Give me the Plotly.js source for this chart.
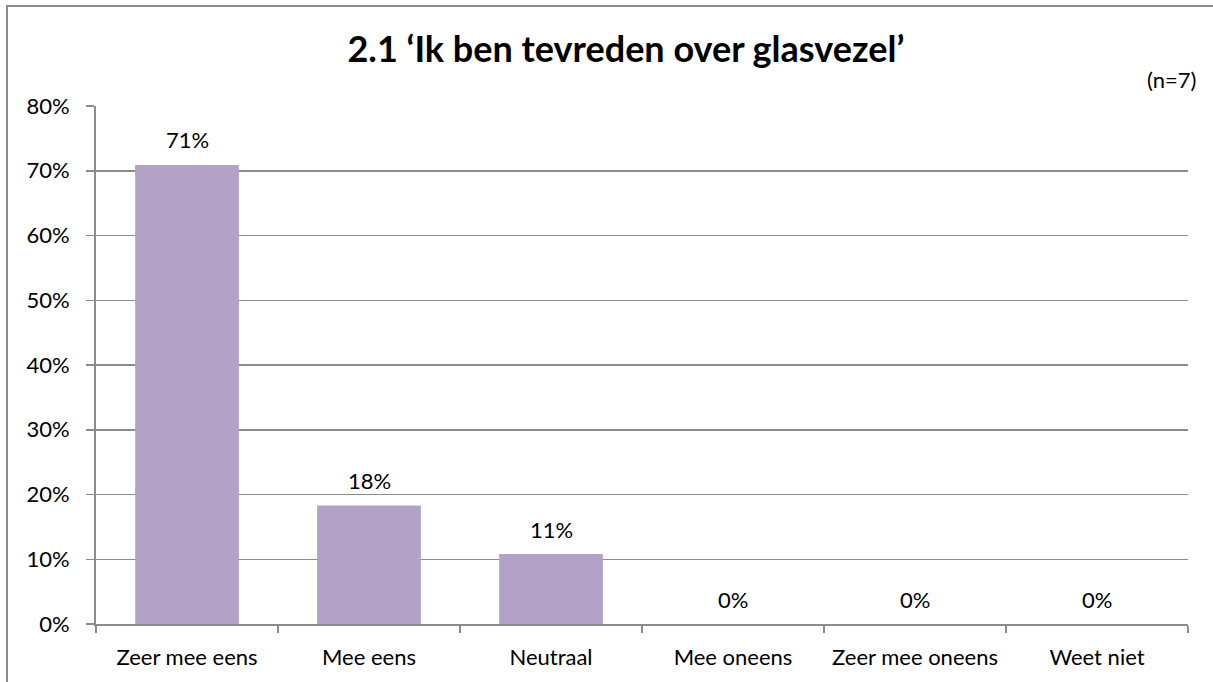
<!DOCTYPE html>
<html>
<head>
<meta charset="utf-8">
<script src="https://cdn.plot.ly/plotly-3.0.1.min.js"></script>
<style>
  html, body { margin: 0; padding: 0; background: #fff; }
  #wrap { position: relative; width: 1213px; height: 682px; overflow: hidden; }
  #chart { position: absolute; left: 0; top: 0; width: 1213px; height: 682px; }
  #frame { position: absolute; left: 6px; top: 5px; width: 1213px; height: 700px;
           border-left: 2px solid #8c8c8c; border-top: 2px solid #8c8c8c; pointer-events: none; }
</style>
</head>
<body>
<div id="wrap">
  <div id="chart"></div>
  <div id="frame"></div>
</div>
<script>
const categories = ["Zeer mee eens", "Mee eens", "Neutraal", "Mee oneens", "Zeer mee oneens", "Weet niet"];
const values = [0.709, 0.183, 0.108, 0, 0, 0];
const yTickValues = [0, 0.1, 0.2, 0.3, 0.4, 0.5, 0.6, 0.7, 0.8];
const titleText = "2.1 \u2018Ik ben tevreden over glasvezel\u2019";
const noteText = "(n=7)";

const FONT = "Lato, 'Open Sans', sans-serif";
const GRID = "#8c8c8c";
const FS = 22;

const trace = {
  type: "bar",
  x: categories,
  y: values,
  marker: { color: "#b3a2c7", line: { width: 0 } },
  hoverinfo: "skip"
};

const labelAnnotations = categories.map((c, i) => ({
  x: c, y: values[i], xref: "x", yref: "y",
  text: Math.round(values[i] * 100) + "%",
  showarrow: false, yanchor: "middle", yshift: 25,
  font: { family: FONT, size: FS, color: "#000" }
}));

const layout = {
  width: 1213, height: 682,
  margin: { l: 96, r: 25, t: 106, b: 58, pad: 0 },
  paper_bgcolor: "#fff", plot_bgcolor: "#fff",
  showlegend: false,
  bargap: 0.43,
  title: {
    text: "<b>" + titleText + "</b>",
    x: 0.516, xanchor: "center", y: 0.927, yanchor: "middle",
    font: { family: FONT, size: 36, color: "#000" }
  },
  xaxis: {
    type: "category",
    showline: true, linecolor: GRID, linewidth: 2,
    ticks: "outside", tickson: "boundaries", ticklen: 7, tickcolor: GRID, tickwidth: 1.5,
    tickfont: { family: FONT, size: FS, color: "#000" },
    ticklabelstandoff: 13,
    showgrid: false, zeroline: false, fixedrange: true
  },
  yaxis: {
    range: [0, 0.8],
    tickvals: yTickValues,
    tickformat: ".0%",
    showline: true, linecolor: GRID, linewidth: 2,
    ticks: "outside", ticklen: 8, tickcolor: GRID, tickwidth: 1.5,
    tickfont: { family: FONT, size: FS, color: "#000" },
    ticklabelstandoff: 12,
    showgrid: true, gridcolor: GRID, gridwidth: 1.5,
    zeroline: false, fixedrange: true
  },
  annotations: labelAnnotations.concat([{
    text: noteText, xref: "paper", yref: "paper", x: 1, y: 1,
    xanchor: "right", yanchor: "middle", xshift: 10, yshift: 27, showarrow: false,
    font: { family: FONT, size: FS, color: "#000" }
  }])
};

Plotly.newPlot("chart", [trace], layout, { displayModeBar: false, staticPlot: true });
</script>
</body>
</html>
